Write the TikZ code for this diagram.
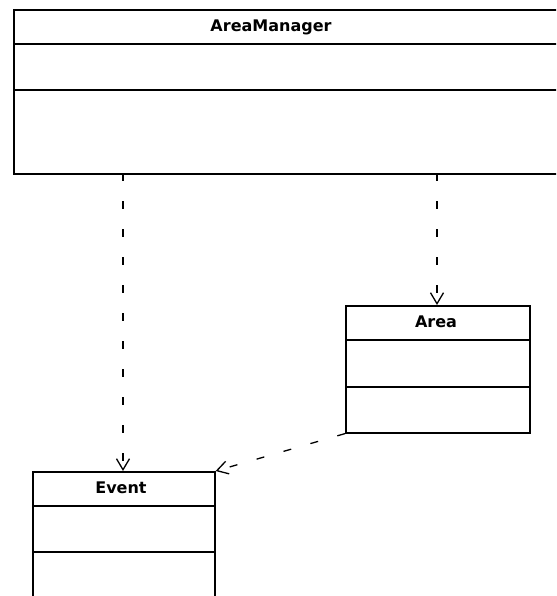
\documentclass[tikz,border=0pt]{standalone}
\usepackage{fontspec}
\newfontfamily\umlfont{DejaVu Sans}
\usetikzlibrary{arrows.meta}
\begin{document}
\begin{tikzpicture}[x=1pt,y=-1pt,
  classbox/.style={draw, line width=1.6pt, rectangle, anchor=north west, inner sep=0pt},
  compline/.style={line width=1.6pt},
  classname/.style={font=\umlfont\bfseries\fontsize{16}{18}\selectfont, inner sep=0pt},
  dep/.style={line width=1.3pt, dash pattern=on 8pt off 20pt,
    -{Straight Barb[length=11pt,width=13pt,line width=1.3pt]}},
]
\useasboundingbox (0,0) rectangle (556,596);
\clip (0,0) rectangle (556,596);

% AreaManager class
\node[classbox, minimum width=560pt, minimum height=164pt] (am) at (13,9) {};
\draw[compline] ([yshift=-35pt]am.north west) -- ([yshift=-35pt]am.north east);
\draw[compline] ([yshift=-81pt]am.north west) -- ([yshift=-81pt]am.north east);
\node[classname] (amT) at (271,27) {AreaManager};

% Area class
\node[classbox, minimum width=184pt, minimum height=127pt] (ar) at (345,305) {};
\draw[compline] ([yshift=-35pt]ar.north west) -- ([yshift=-35pt]ar.north east);
\draw[compline] ([yshift=-82pt]ar.north west) -- ([yshift=-82pt]ar.north east);
\node[classname] (arT) at (436,322) {Area};

% Event class
\node[classbox, minimum width=182pt, minimum height=140pt] (ev) at (32,471) {};
\draw[compline] ([yshift=-35pt]ev.north west) -- ([yshift=-35pt]ev.north east);
\draw[compline] ([yshift=-81pt]ev.north west) -- ([yshift=-81pt]ev.north east);
\node[classname] (evT) at (121,488) {Event};

% Dependencies
\coordinate (amL) at (123,173);
\coordinate (amR) at (437,173);
\draw[dep] (amL) -- (amL |- ev.north);
\draw[dep] (amR) -- (amR |- ar.north);
\draw[dep] (ar.south west) -- (ev.north east);
\end{tikzpicture}
\end{document}
